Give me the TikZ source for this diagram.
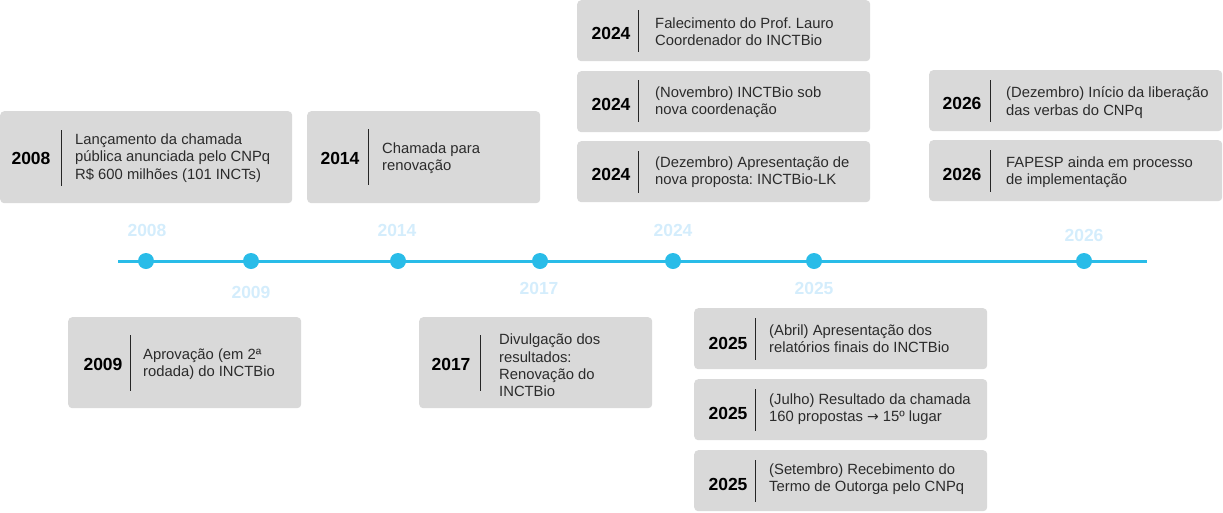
\documentclass[tikz,border=0pt]{standalone}
\usepackage{fontspec}
\setmainfont{Liberation Sans}
\frenchspacing
\definecolor{boxgray}{HTML}{D9D9D9}
\definecolor{tlblue}{HTML}{29BCE8}
\definecolor{lblblue}{HTML}{D4EDFC}
\definecolor{bodytxt}{HTML}{2B2B2B}
\begin{document}
\begin{tikzpicture}[x=1pt,y=-1pt,
  card/.style={fill=boxgray,rounded corners=4pt,anchor=north west,inner sep=0pt,draw=none},
  yr/.style={font=\fontsize{17.5}{17}\selectfont\bfseries,text=black,inner sep=0pt},
  desc/.style={font=\fontsize{14.8}{17.2}\selectfont,text=bodytxt,align=left,anchor=west,inner sep=0pt},
  divider/.style={draw=black!85,line width=1pt},
  dot/.style={circle,fill=tlblue,minimum size=16pt,inner sep=0pt},
  tllabel/.style={font=\fontsize{17.5}{17}\selectfont\bfseries,text=lblblue,inner sep=0pt}
]
\useasboundingbox (0,0) rectangle (1223,512);

% 2008
\node[card,minimum width=292pt,minimum height=92pt] (c2008) at (0,111) {};
\node[yr] (c2008-yr) at (31,158) {2008};
\draw[divider] (61,130) -- (61,186);
\node[desc] (c2008-t) at (75,158) {Lançamento da chamada\\pública anunciada pelo CNPq\\R\$ 600 milhões (101 INCTs)};

% 2014
\node[card,minimum width=233pt,minimum height=92pt] (c2014) at (307,111) {};
\node[yr] (c2014-yr) at (340,158) {2014};
\draw[divider] (368,129) -- (368,185);
\node[desc] (c2014-t) at (382,158.5) {Chamada para\\renovação};

% 2024 a
\node[card,minimum width=293pt,minimum height=61pt] (c2024a) at (577,0) {};
\node[yr] (c2024a-yr) at (611,33) {2024};
\draw[divider] (638,10) -- (638,52);
\node[desc] (c2024a-t) at (655,32) {Falecimento do Prof. Lauro\\Coordenador do INCTBio};

% 2024 b
\node[card,minimum width=293pt,minimum height=61pt] (c2024b) at (577,71) {};
\node[yr] (c2024b-yr) at (611,104) {2024};
\draw[divider] (638,80) -- (638,122);
\node[desc] (c2024b-t) at (655,102.5) {(Novembro) INCTBio sob\\nova coordenação};

% 2024 c
\node[card,minimum width=293pt,minimum height=61pt] (c2024c) at (577,141) {};
\node[yr] (c2024c-yr) at (611,174) {2024};
\draw[divider] (638,151) -- (638,193);
\node[desc] (c2024c-t) at (655,172.5) {(Dezembro) Apresentação de\\nova proposta: INCTBio-LK};

% 2026 a
\node[card,minimum width=293pt,minimum height=61pt] (c2026a) at (929,70) {};
\node[yr] (c2026a-yr) at (962,103) {2026};
\draw[divider] (990,80) -- (990,122);
\node[desc] (c2026a-t) at (1006,102.5) {(Dezembro) Início da liberação\\das verbas do CNPq};

% 2026 b
\node[card,minimum width=293pt,minimum height=61pt] (c2026b) at (929,140) {};
\node[yr] (c2026b-yr) at (962,174) {2026};
\draw[divider] (990,150) -- (990,192);
\node[desc] (c2026b-t) at (1006,172.5) {FAPESP ainda em processo\\de implementação};

% 2009
\node[card,minimum width=233pt,minimum height=91pt] (c2009) at (68,317) {};
\node[yr] (c2009-yr) at (103,364) {2009};
\draw[divider] (130,335) -- (130,391);
\node[desc] (c2009-t) at (143,364) {Aprovação (em 2ª\\rodada) do INCTBio};

% 2017
\node[card,minimum width=233pt,minimum height=91pt] (c2017) at (419,317) {};
\node[yr] (c2017-yr) at (451,364) {2017};
\draw[divider] (480,335) -- (480,391);
\node[desc] (c2017-t) at (499,365.5) {Divulgação dos\\resultados:\\Renovação do\\INCTBio};

% 2025 a
\node[card,minimum width=293pt,minimum height=61pt] (c2025a) at (694,308) {};
\node[yr] (c2025a-yr) at (728,343) {2025};
\draw[divider] (755,318) -- (755,360);
\node[desc] (c2025a-t) at (769,339) {(Abril) Apresentação dos\\relatórios finais do INCTBio};

% 2025 b
\node[card,minimum width=293pt,minimum height=61pt] (c2025b) at (694,379) {};
\node[yr] (c2025b-yr) at (728,413) {2025};
\draw[divider] (755,389) -- (755,431);
\node[desc] (c2025b-t) at (769,409.5) {(Julho) Resultado da chamada\\160 propostas {\fontspec{DejaVu Sans}\fontsize{14}{17}\selectfont →} 15º lugar};

% 2025 c
\node[card,minimum width=293pt,minimum height=61pt] (c2025c) at (694,450) {};
\node[yr] (c2025c-yr) at (728,484) {2025};
\draw[divider] (755,460) -- (755,502);
\node[desc] (c2025c-t) at (769,479.5) {(Setembro) Recebimento do\\Termo de Outorga pelo CNPq};

% ---- timeline
\coordinate (tl-start) at (118,261);
\coordinate (tl-end) at (1147,261);
\draw[tlblue,line width=3pt] (tl-start) -- (tl-end);
\node[dot] (d2008) at (146,261) {};
\node[dot] (d2009) at (251,261) {};
\node[dot] (d2014) at (398,261) {};
\node[dot] (d2017) at (540,261) {};
\node[dot] (d2024) at (673,261) {};
\node[dot] (d2025) at (814,261) {};
\node[dot] (d2026) at (1084,261) {};

\node[tllabel] (l2008) at (147,230) {2008};
\node[tllabel] (l2009) at (251,292) {2009};
\node[tllabel] (l2014) at (397,230) {2014};
\node[tllabel] (l2017) at (539,288) {2017};
\node[tllabel] (l2024) at (673,230) {2024};
\node[tllabel] (l2025) at (814,288) {2025};
\node[tllabel] (l2026) at (1084,235) {2026};
\end{tikzpicture}
\end{document}
